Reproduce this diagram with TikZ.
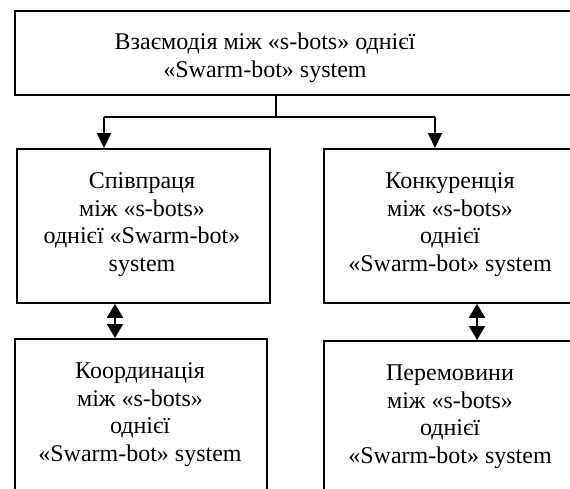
\documentclass[tikz,border=0pt]{standalone}
\usepackage{fontspec}
\setmainfont{Liberation Serif}
\usetikzlibrary{arrows.meta}

\tikzset{
  box/.style={draw, line width=1.8pt, rectangle, inner sep=0pt},
  label/.style={align=center, inner sep=0pt, font=\fontsize{24}{27.5}\selectfont},
  link/.style={line width=1.8pt},
  down/.style={link, -{Triangle[length=15pt,width=14pt]}},
  both/.style={link, {Triangle[length=14pt,width=16pt]}-{Triangle[length=14pt,width=16pt]}},
}

\begin{document}
\begin{tikzpicture}[x=1pt, y=-1pt]
  \useasboundingbox (0,0) rectangle (570,488);
  \clip (0,0) rectangle (570,488);

  % frames (right and lower ones run past the edge)
  \node[box, minimum width=586pt, minimum height=84pt, anchor=north west] (top) at (14,10) {};
  \node[box, minimum width=253pt, minimum height=154pt, anchor=north west] (coop) at (16,148) {};
  \node[box, minimum width=277pt, minimum height=154pt, anchor=north west] (comp) at (323,148) {};
  \node[box, minimum width=252pt, minimum height=182pt, anchor=north west] (coord) at (14,338) {};
  \node[box, minimum width=277pt, minimum height=180pt, anchor=north west] (negot) at (323,340) {};

  % captions
  \node[label] (ttop) at (265,58) {Взаємодія між «s-bots» однієї\\«Swarm-bot» system};
  \node[label] (tcoop) at (142,224.5) {Співпраця\\між «s-bots»\\однієї «Swarm-bot»\\system};
  \node[label] (tcomp) at (450,224.5) {Конкуренція\\між «s-bots»\\однієї\\«Swarm-bot» system};
  \node[label] (tcoord) at (140,414.5) {Координація\\між «s-bots»\\однієї\\«Swarm-bot» system};
  \node[label] (tnegot) at (450,416.5) {Перемовини\\між «s-bots»\\однієї\\«Swarm-bot» system};

  % branching from the top frame
  \coordinate (stem) at (276,117);
  \coordinate (lft) at (104,117);
  \coordinate (rgt) at (435,117);
  \draw[link] (top.south -| stem) -- (stem);
  \draw[link] (lft) -- (rgt);
  \draw[down] (lft) -- (coop.north -| lft);
  \draw[down] (rgt) -- (comp.north -| rgt);

  % two-way links between the rows
  \coordinate (lx) at (115,320);
  \coordinate (rx) at (477,320);
  \draw[both] (coop.south -| lx) -- (coord.north -| lx);
  \draw[both] (comp.south -| rx) -- (negot.north -| rx);
\end{tikzpicture}
\end{document}
